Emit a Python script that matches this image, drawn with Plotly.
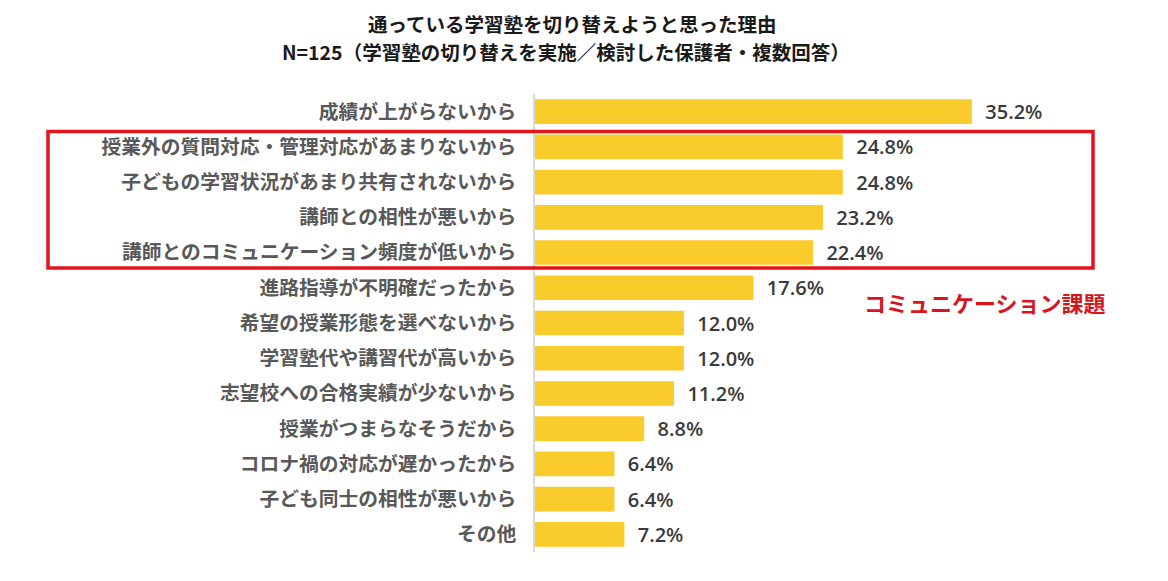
import plotly.graph_objects as go

categories = [
    "成績が上がらないから",
    "授業外の質問対応・管理対応があまりないから",
    "子どもの学習状況があまり共有されないから",
    "講師との相性が悪いから",
    "講師とのコミュニケーション頻度が低いから",
    "進路指導が不明確だったから",
    "希望の授業形態を選べないから",
    "学習塾代や講習代が高いから",
    "志望校への合格実績が少ないから",
    "授業がつまらなそうだから",
    "コロナ禍の対応が遅かったから",
    "子ども同士の相性が悪いから",
    "その他",
]
values = [35.2, 24.8, 24.8, 23.2, 22.4, 17.6, 12.0, 12.0, 11.2, 8.8, 6.4, 6.4, 7.2]

title_line1 = "通っている学習塾を切り替えようと思った理由"
title_line2 = "N=125（学習塾の切り替えを実施／検討した保護者・複数回答）"
callout_text = "コミュニケーション課題"

FONT = "Noto Sans CJK JP"
OFF = 8  # page body margin
W, H = 1168 - OFF, 581 - OFF
# plot area in screen pixels
SX0, SX1, SY0, SY1 = 535, 1168, 94, 552
L, R, T, B = SX0 - OFF, 1168 - SX1, SY0 - OFF, 581 - SY1
pw, ph = SX1 - SX0, SY1 - SY0


def px(x):
    return (x - SX0) / pw


def py(y):
    return (SY1 - y) / ph


fig = go.Figure(
    go.Bar(
        x=values,
        y=categories,
        orientation="h",
        marker=dict(color="#F9CB2B", line=dict(width=0)),
        width=0.7,
        text=values,
        texttemplate="\u00a0\u00a0%{x:.1f}%",
        textposition="outside",
        constraintext="none",
        textfont=dict(family="Open Sans", size=20, color="#3A3A3A", weight=600),
        cliponaxis=False,
        hoverinfo="skip",
    )
)

fig.update_layout(
    width=W,
    height=H,
    margin=dict(l=L, r=R, t=T, b=B, pad=0),
    paper_bgcolor="white",
    plot_bgcolor="white",
    showlegend=False,
    font=dict(family=FONT),
    xaxis=dict(range=[0, 51], visible=False, fixedrange=True),
    yaxis=dict(
        autorange="reversed",
        showline=True,
        linecolor="#D9D9D9",
        linewidth=1.5,
        showgrid=False,
        zeroline=False,
        ticks="",
        ticklabelstandoff=13,
        tickfont=dict(family=FONT, size=19.75, color="#595959", weight="bold"),
    ),
    shapes=[
        dict(
            type="rect",
            xref="paper",
            yref="paper",
            x0=px(48),
            x1=px(1093),
            y0=py(268),
            y1=py(131.5),
            line=dict(color="#E3141C", width=3.5),
            fillcolor="rgba(0,0,0,0)",
            layer="above",
        )
    ],
    annotations=[
        dict(
            text=title_line1,
            xref="paper",
            yref="paper",
            x=px(572),
            y=py(23),
            xanchor="center",
            yanchor="middle",
            showarrow=False,
            font=dict(family=FONT, size=19.5, color="#1A1A1A", weight="bold"),
        ),
        dict(
            text=title_line2,
            xref="paper",
            yref="paper",
            x=px(566),
            y=py(52),
            xanchor="center",
            yanchor="middle",
            showarrow=False,
            font=dict(family=FONT, size=19.5, color="#1A1A1A", weight="bold"),
        ),
        dict(
            text=callout_text,
            xref="paper",
            yref="paper",
            x=px(985),
            y=py(302),
            xanchor="center",
            yanchor="middle",
            showarrow=False,
            font=dict(family=FONT, size=22, color="#D8141E", weight="bold"),
        ),
    ],
)

fig.write_html("out.html")
